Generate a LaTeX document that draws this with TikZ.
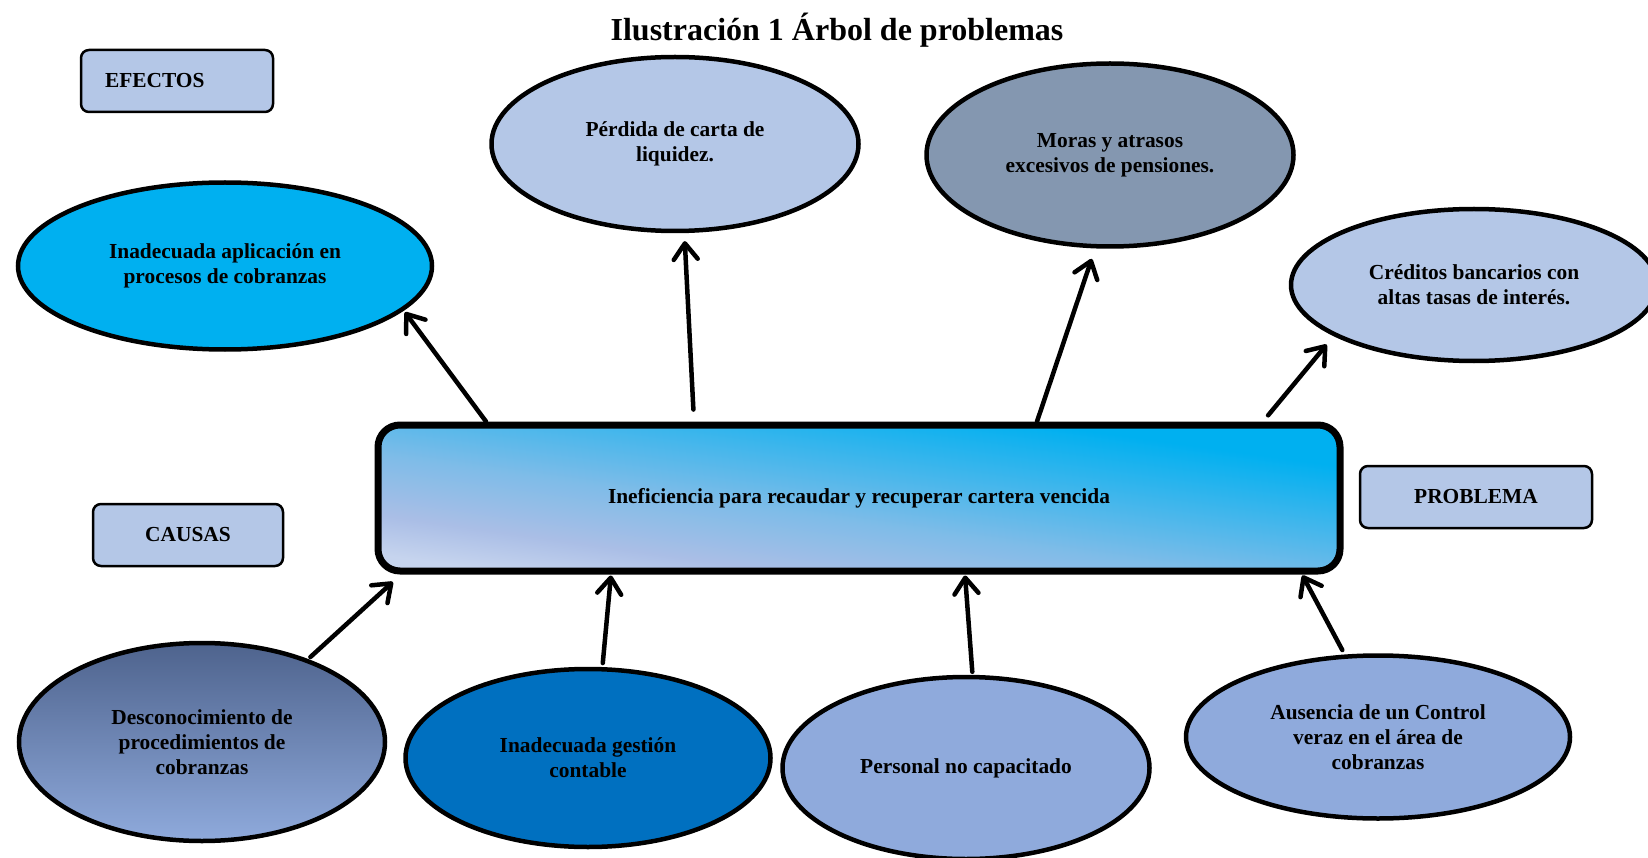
\documentclass[tikz,border=0pt]{standalone}
\usepackage{fontspec}
\setmainfont{Liberation Serif}
\usetikzlibrary{arrows.meta,shapes.geometric}
\definecolor{paleblue}{HTML}{B4C7E7}
\definecolor{skycyan}{HTML}{00B0F0}
\definecolor{slategrey}{HTML}{8497B0}
\definecolor{deepblue}{HTML}{0070C0}
\definecolor{softblue}{HTML}{8FAADC}
\definecolor{duskblue}{HTML}{4E638D}
\definecolor{probmid}{HTML}{7FBCE8}
\definecolor{problav}{HTML}{AABEE6}
\definecolor{probbot}{HTML}{C6D4EE}
\pgfdeclareverticalshading{probshade}{100bp}{color(0bp)=(probbot); color(25bp)=(probbot); color(33bp)=(problav); color(45bp)=(probmid); color(70bp)=(skycyan); color(100bp)=(skycyan)}
\newcommand\treefont{\fontsize{21.4}{25}\selectfont\bfseries}
\newcommand\titlefont{\fontsize{32}{36}\selectfont\bfseries}
\tikzset{
  treeoval/.style={ellipse, draw=black, line width=4.5pt, align=center, inner sep=0pt, font=\treefont},
  tagbox/.style={draw=black, line width=2.5pt, fill=paleblue, rounded corners=8pt, minimum height=62pt, font=\treefont},
  treearrow/.style={-{Straight Barb[length=16pt,width=24pt,round]}, line width=4.5pt, line cap=round},
}

\begin{document}
\begin{tikzpicture}[x=1pt, y=-1pt]
    \useasboundingbox (0,0) rectangle (1648,858);
    \node[font=\titlefont] (title) at (837,30) {Ilustración 1 Árbol de problemas};
    % etiquetas
    \node[tagbox, text width=144pt, inner xsep=24pt, align=left, minimum width=190pt] (efectos) at (177,81) {EFECTOS};
    \node[tagbox, minimum width=190pt] (causas) at (188,535) {CAUSAS};
    \node[tagbox, minimum width=232pt] (problema) at (1476,497) {PROBLEMA};
    % problema central
    \node[draw=black, line width=7pt, rounded corners=22pt, minimum width=962pt, minimum height=146pt,
          shading=probshade, shading angle=-8, font=\treefont] (prob) at (859,498) {Ineficiencia para recaudar y recuperar cartera vencida};
    % efectos
    \node[treeoval, fill=skycyan, minimum width=414pt, minimum height=167pt] (ef1) at (225,266) {Inadecuada aplicación en\\procesos de cobranzas};
    \node[treeoval, fill=paleblue, minimum width=367pt, minimum height=174pt] (ef2) at (675,144) {Pérdida de carta de\\liquidez.};
    \node[treeoval, fill=slategrey, minimum width=367pt, minimum height=183pt] (ef3) at (1110,155) {Moras y atrasos\\excesivos de pensiones.};
    \node[treeoval, fill=paleblue, minimum width=366pt, minimum height=152pt] (ef4) at (1474,285) {Créditos bancarios con\\altas tasas de interés.};
    % causas
    \node[treeoval, top color=duskblue, bottom color=softblue, minimum width=366pt, minimum height=198pt] (ca1) at (202,742) {Desconocimiento de\\procedimientos de\\cobranzas};
    \node[treeoval, fill=deepblue, minimum width=365pt, minimum height=178pt] (ca2) at (588,758) {Inadecuada gestión\\contable};
    \node[treeoval, fill=softblue, minimum width=367pt, minimum height=182pt] (ca3) at (966,768) {Personal no capacitado};
    \node[treeoval, fill=softblue, minimum width=384pt, minimum height=163pt] (ca4) at (1378,737) {Ausencia de un Control\\veraz en el área de\\cobranzas};
    % flechas
    \draw[treearrow, shorten >=2pt] ([xshift=-373pt]prob.north) -- (ef1.-14.5);
    \draw[treearrow, shorten <=12pt, shorten >=8pt] ([xshift=-165pt]prob.north) -- (ef2.-84.75);
    \draw[treearrow, shorten >=11pt] ([xshift=178pt]prob.north) -- (ef3.-99.2);
    \draw[treearrow, shorten <=8pt, shorten >=11pt] ([xshift=404pt]prob.north) -- (ef4.-160.8);
    \draw[treearrow, shorten <=3pt, shorten >=11pt] (ca1.38.5) -- ([xshift=-458pt]prob.south);
    \draw[treearrow, shorten <=4pt, shorten >=1pt] (ca2.81.7) -- ([xshift=-248pt]prob.south);
    \draw[treearrow, shorten <=3pt, shorten >=1pt] (ca3.86.5) -- ([xshift=106pt]prob.south);
    \draw[treearrow, shorten <=5pt, shorten >=1pt] (ca4.112.8) -- ([xshift=443pt]prob.south);
\end{tikzpicture}
\end{document}
